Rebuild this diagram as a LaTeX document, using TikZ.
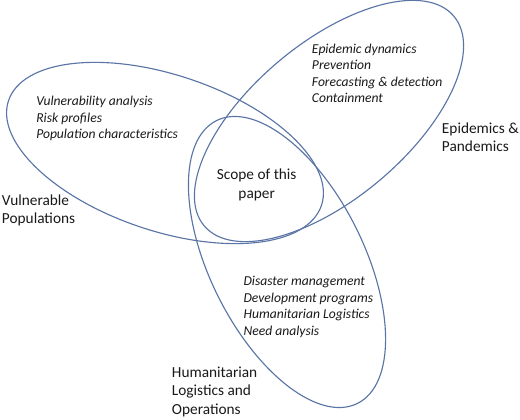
\documentclass[tikz,border=0pt]{standalone}
\usepackage{fontspec}
\setmainfont{Carlito}
\definecolor{vennblue}{RGB}{90,116,166}
\definecolor{txt}{RGB}{25,25,25}
\tikzset{
  venn/.style={draw=vennblue, line width=0.85pt},
  items/.style={inner sep=0pt, anchor=north west, align=left, text=txt,
    font=\fontsize{10.2}{12.4}\selectfont\itshape},
  biglabel/.style={inner sep=0pt, anchor=north west, align=left, text=txt,
    font=\fontsize{11.5}{13.75}\selectfont},
}
\begin{document}
\begin{tikzpicture}[x=0.75pt,y=-0.75pt]
\useasboundingbox (0,0) rectangle (520,419);
% ellipses
\coordinate (cVP) at (165,153);
\coordinate (cEP) at (329,121);
\coordinate (cHL) at (287,262);
\draw[venn, rotate around={-18.5:(cVP)}] (cVP) ellipse [x radius=165, y radius=78];
\draw[venn, rotate around={40:(cEP)}] (cEP) ellipse [x radius=163, y radius=78];
\draw[venn, rotate around={-63.5:(cHL)}] (cHL) ellipse [x radius=158, y radius=77];
% texts
\node[items] (epitems) at (311.7,43.3) {Epidemic dynamics\\Prevention\\Forecasting \& detection\\Containment};
\node[items] (vpitems) at (36,95.9) {Vulnerability analysis\\Risk profiles\\Population characteristics};
\node[items] (hlitems) at (243.3,276.2) {Disaster management\\Development programs\\Humanitarian Logistics\\Need analysis};
\node[biglabel, anchor=north, align=center, font=\fontsize{11.5}{14.25}\selectfont] (scope) at (256.7,168.6) {Scope of this\\paper};
\node[biglabel] (eplabel) at (441.7,122.4) {Epidemics \&\\Pandemics};
\node[biglabel] (vplabel) at (1.7,194.3) {Vulnerable\\Populations};
\node[biglabel] (hllabel) at (171.7,366.8) {Humanitarian\\Logistics and\\Operations};
\end{tikzpicture}
\end{document}
